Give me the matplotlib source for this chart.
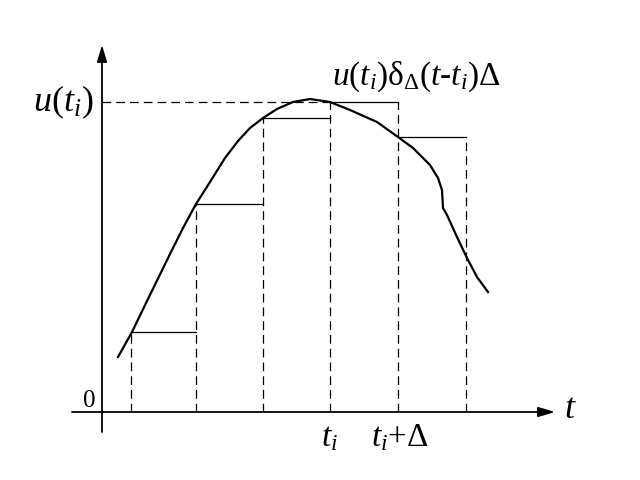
import matplotlib
matplotlib.use('Agg')
import matplotlib.pyplot as plt

# Staircase approximation of a signal u(t); units are arbitrary (pixel-like)
T_EDGES = [29, 94, 161, 228, 296, 364]      # left/right edges of the steps
STEP_VALS = [80, 208, 294, 310, 275]        # u(t_k) held over each step

CURVE_T = [16, 30, 45, 68, 81, 94, 108, 123, 136, 148, 161, 175, 191, 208,
           228, 248, 275, 296, 311, 328, 336, 340, 341, 345, 355, 365, 375, 386]
CURVE_U = [55, 80, 111, 158, 184, 208, 230, 254, 271, 284, 294, 303, 310, 313,
           310, 302, 290, 275, 264, 247, 234, 222, 204, 197, 175, 154, 135, 120]

TI_INDEX = 3   # the step whose left edge is t_i

plt.rcParams['font.family'] = 'serif'
plt.rcParams['font.serif'] = ['Liberation Serif', 'DejaVu Serif']
plt.rcParams['mathtext.fontset'] = 'custom'
plt.rcParams['mathtext.rm'] = 'Liberation Serif'
plt.rcParams['mathtext.it'] = 'Liberation Serif:italic'


def main():
    fig = plt.figure(figsize=(6.4, 4.8), dpi=100)
    ax = fig.add_axes([0, 0, 1, 1])
    ax.set_xlim(-102, 538)
    ax.set_ylim(-68, 412)
    ax.axis('off')

    # axes with arrows
    ax.annotate('', xy=(453, 0), xytext=(-30, 0),
                arrowprops=dict(arrowstyle='-|>,head_length=1.0,head_width=0.3',
                                lw=1.3, color='black', shrinkA=0, shrinkB=0))
    ax.annotate('', xy=(0, 367), xytext=(0, -20),
                arrowprops=dict(arrowstyle='-|>,head_length=1.0,head_width=0.3',
                                lw=1.3, color='black', shrinkA=0, shrinkB=0))

    dash = dict(color='black', lw=0.9, linestyle=(0, (7, 4)))

    # step tops (solid) and vertical edges (dashed)
    for k, v in enumerate(STEP_VALS):
        ax.plot([T_EDGES[k], T_EDGES[k + 1]], [v, v], color='black', lw=0.9)
    for k, t in enumerate(T_EDGES):
        left = STEP_VALS[k - 1] if k > 0 else 0
        right = STEP_VALS[k] if k < len(STEP_VALS) else 0
        ax.plot([t, t], [0, max(left, right)], **dash)

    # dashed level u(t_i)
    ui = STEP_VALS[TI_INDEX]
    ax.plot([0, T_EDGES[TI_INDEX]], [ui, ui], **dash)

    # the signal
    ax.plot(CURVE_T, CURVE_U, color='black', lw=1.6, solid_joinstyle='round')

    # labels
    ax.text(-9, ui, '$u(t_i)$', fontsize=26, ha='right', va='center')
    ax.text(230, 335, '$u(t_i)$δ$_\\Delta(t$-$t_i)\\Delta$', fontsize=24,
            ha='left', va='center')
    ax.text(-7, 11, '0', fontsize=18, ha='right', va='center')
    ax.text(468, 2, '$t$', fontsize=26, ha='center', va='center')
    ax.text(T_EDGES[TI_INDEX], -26, '$t_i$', fontsize=24, ha='center', va='center')
    ax.text(T_EDGES[TI_INDEX + 1] - 27, -26, '$t_i$+$\\Delta$', fontsize=24,
            ha='left', va='center')

    fig.savefig('out.png', dpi=100)


if __name__ == '__main__':
    main()
